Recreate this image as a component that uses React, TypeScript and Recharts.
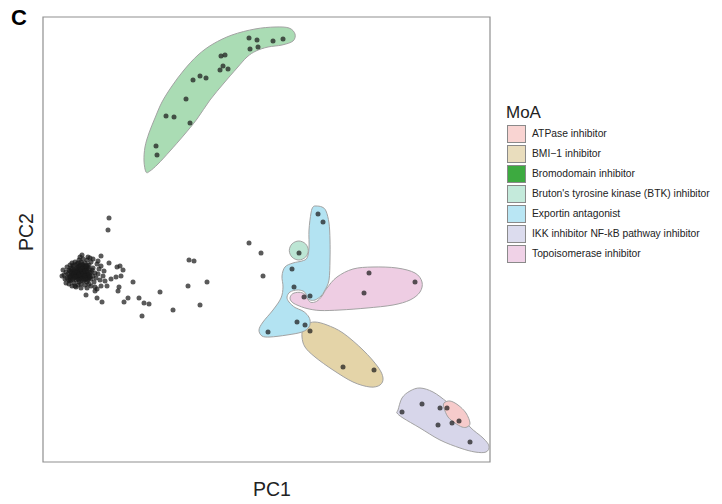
import React from 'react';
import { ScatterChart, Scatter, XAxis, YAxis, ReferenceArea } from 'recharts';

type Pt = [number, number];

// legend
const moaLabels = [
  'ATPase inhibitor',
  'BMI\u22121 inhibitor',
  'Bromodomain inhibitor',
  "Bruton's tyrosine kinase (BTK) inhibitor",
  'Exportin antagonist',
  'IKK inhibitor NF-kB pathway inhibitor',
  'Topoisomerase inhibitor',
];
const moaKeyColors = ['#F9D4D2', '#E9DDBD', '#3DAA40', '#C4EADB', '#B9E6F4', '#DCDCEE', '#F0D2E7'];

// untreated / unlabelled compounds
const otherPoints: Pt[] = [
  [66, 244], [65, 232], [206, 219], [218, 209], [220, 186], [146, 202], [151, 201], [164, 180],
  [145, 176], [117, 170], [90, 180], [85, 164], [81, 160], [96, 164], [101, 159], [106, 158],
  [99, 146], [130, 152], [157, 157],
  [39, 207], [58, 206], [47, 204], [66, 199], [74, 195], [77, 196], [80, 192], [78, 186],
  [73, 185], [68, 183], [76, 175], [75, 171], [64, 176], [58, 176], [54, 173], [52, 171],
  [43, 167], [54, 164], [59, 160], [33, 175], [23, 179], [26, 182],
  [30, 190], [32, 188], [34, 191], [36, 189], [38, 192], [40, 190], [42, 188], [44, 191],
  [35, 186], [37, 184], [39, 187], [41, 185], [43, 183], [45, 186], [47, 189], [33, 193],
  [35, 195], [37, 197], [39, 194], [41, 196], [43, 193], [45, 195], [31, 184], [29, 187],
  [27, 185], [28, 190], [26, 192], [33, 182], [36, 180], [40, 181], [44, 180], [48, 183],
  [50, 186], [49, 192], [46, 197], [42, 199], [38, 200], [34, 198], [30, 196], [28, 194],
  [25, 188], [24, 184], [27, 181], [31, 179], [35, 177], [38, 178], [42, 177], [46, 178],
  [51, 180], [53, 184], [52, 189], [50, 194], [48, 200], [44, 202], [40, 203], [36, 202],
  [32, 200], [29, 199], [33, 189], [37, 191], [41, 189], [39, 185], [35, 183], [31, 192],
  [43, 187], [46, 184], [34, 186], [38, 188], [42, 194], [36, 193], [40, 197], [44, 197],
  [30, 186], [28, 182], [26, 178], [22, 183], [21, 187], [23, 190], [55, 188], [56, 193],
  [54, 198], [57, 182], [60, 186], [61, 191], [58, 196], [62, 181], [48, 176], [52, 175],
  [44, 174], [38, 174], [32, 176], [29, 176], [55, 201], [50, 203], [45, 205], [37, 205],
  [27, 197], [24, 195], [20, 192], [19, 186],
  [31, 188], [33, 187], [35, 190], [37, 188], [39, 190], [41, 192], [43, 190], [45, 188],
  [34, 185], [36, 187], [38, 186], [40, 188], [42, 186], [44, 184], [46, 187], [32, 191],
  [34, 194], [36, 196], [38, 193], [40, 195], [42, 191], [44, 193], [30, 183], [28, 186],
  [29, 189], [27, 191], [32, 185], [36, 182], [39, 183], [41, 182], [45, 182], [47, 185],
  [48, 190], [46, 193], [43, 196], [39, 198], [35, 199], [31, 197], [29, 193], [26, 186],
];

const bromodomainPoints: Pt[] = [
  [206, 424], [214, 422], [230, 421], [240, 423], [207, 413], [215, 415], [178, 406], [182, 407],
  [180, 396], [177, 392], [185, 393], [157, 386], [163, 384], [150, 382], [143, 363], [123, 346],
  [131, 345], [147, 339], [113, 316], [114, 307],
];
const bmiPoints: Pt[] = [[267, 131], [300, 95], [331, 92]];
const btkPoints: Pt[] = [[256, 209]];
const exportinPoints: Pt[] = [[275, 248], [280, 240], [249, 193], [251, 175], [267, 166], [254, 140], [262, 137], [225, 130]];
const topoPoints: Pt[] = [[326, 189], [372, 180], [321, 169], [261, 165]];
const ikkPoints: Pt[] = [[359, 50], [379, 58], [397, 54], [395, 37], [409, 39], [427, 20]];
const atpasePoints: Pt[] = [[404, 54], [416, 41]];

// hull outlines
const bromodomainHull: Pt[] = [
  [103, 290], [101, 301], [102, 315], [106, 329], [112, 344], [119, 360], [129, 376], [141, 392],
  [155, 407], [170, 418], [189, 427], [212, 433], [232, 435], [246, 434], [252, 428], [250, 421],
  [239, 417], [225, 415], [213, 411], [204, 405], [194, 394], [181, 379], [167, 362], [154, 343],
  [141, 327], [127, 311], [115, 298], [107, 291],
];
const bmiHull: Pt[] = [
  [264, 138], [272, 140], [284, 137], [300, 129], [320, 112], [335, 95], [340, 84], [337, 77],
  [327, 75], [310, 80], [290, 92], [272, 105], [262, 115], [259, 125], [260, 134],
];
const btkHull: Pt[] = [
  [265.3, 211.5], [262.5, 218.2], [255.8, 221], [249.1, 218.2], [246.3, 211.5], [249.1, 204.8], [255.8, 202], [262.5, 204.8],
];
const exportinHull: Pt[] = [
  [273, 256], [279, 255], [283, 251], [286, 239], [287, 222], [287, 202], [286, 182], [282, 172],
  [278, 166], [272, 162], [267, 162], [264, 164], [263, 168], [260, 171], [254, 172], [247, 170],
  [244, 165], [246, 160], [252, 154.5], [259, 151.5], [264, 147.5], [267, 142], [266, 135], [259, 130],
  [244, 127], [227, 125], [219, 126], [216, 132], [220, 140], [230, 152], [238, 164], [240, 175],
  [239, 186], [242, 195], [250, 199], [259, 201], [264, 204], [266, 214], [266, 232], [268, 249],
  [270, 255],
];
const topoHull: Pt[] = [
  [247, 164], [249.7, 168.3], [256, 169.7], [261.7, 168], [264, 164], [267.7, 159.7], [273.7, 160.7],
  [279, 166], [284, 174], [294, 185], [310, 193], [330, 195], [354, 194], [372, 189], [379, 180],
  [377, 170], [367, 162], [350, 157], [324, 154], [297, 152], [277, 151.5], [264, 153.5], [254, 157], [249, 160],
];
const ikkHull: Pt[] = [
  [355, 52], [359, 64], [367, 71], [377, 74], [390, 70], [404, 60], [417, 49], [427, 35], [440, 24],
  [446, 16], [443, 10], [432, 10], [417, 14], [397, 22], [377, 34], [360, 44], [354, 49],
];
const atpaseHull: Pt[] = [
  [401, 59], [407, 61], [415, 57], [423, 49], [427, 39], [424, 35], [419, 35], [412, 39], [405, 45], [401, 54],
];

const hulls = [
  { pts: bromodomainHull, fill: '#AADCB4' },
  { pts: bmiHull, fill: '#E4D4A8' },
  { pts: btkHull, fill: '#BCE5D4' },
  { pts: exportinHull, fill: '#B3E3F2' },
  { pts: topoHull, fill: '#EECDE3' },
  { pts: ikkHull, fill: '#D7D6EA' },
  { pts: atpaseHull, fill: '#F6CBCB' },
];

const pointGroups = [otherPoints, bromodomainPoints, bmiPoints, btkPoints, exportinPoints, topoPoints, ikkPoints, atpasePoints];

const toXY = (a: Pt[]) => a.map(([x, y]) => ({ x, y }));

// closed catmull-rom through the scaled vertices
function closedPath(pts: { x: number; y: number }[]) {
  const n = pts.length;
  if (!n) return '';
  let d = `M${pts[0].x},${pts[0].y}`;
  for (let i = 0; i < n; i++) {
    const p0 = pts[(i - 1 + n) % n];
    const p1 = pts[i];
    const p2 = pts[(i + 1) % n];
    const p3 = pts[(i + 2) % n];
    const c1x = p1.x + (p2.x - p0.x) / 6;
    const c1y = p1.y + (p2.y - p0.y) / 6;
    const c2x = p2.x - (p3.x - p1.x) / 6;
    const c2y = p2.y - (p3.y - p1.y) / 6;
    d += `C${c1x},${c1y} ${c2x},${c2y} ${p2.x},${p2.y}`;
  }
  return d + 'Z';
}

const Dot = (p: any) => <circle cx={p.cx} cy={p.cy} r={2.5} fill="#1a1a1a" fillOpacity={0.72} />;

const font = '"Liberation Sans", Arial, Helvetica, sans-serif';

export default function App() {
  return (
    <div style={{ position: 'absolute', left: 0, top: 0, width: 722, height: 504, background: '#fff', fontFamily: font, color: '#222' }}>
      <ScatterChart width={722} height={504} margin={{ top: 17, left: 43, right: 232, bottom: 42 }}>
        <XAxis type="number" dataKey="x" domain={[0, 447]} allowDataOverflow hide />
        <YAxis type="number" dataKey="y" domain={[0, 445]} allowDataOverflow hide />
        {hulls.map((h, i) => (
          <Scatter
            key={'h' + i}
            data={toXY(h.pts)}
            isAnimationActive={false}
            shape={() => <g />}
            lineType="joint"
            line={(p: any) => <path d={closedPath(p.points)} fill={h.fill} stroke="#a3a3a3" strokeWidth={1} />}
          />
        ))}
        {pointGroups.map((g, i) => (
          <Scatter key={'p' + i} data={toXY(g)} isAnimationActive={false} shape={Dot} />
        ))}
        <ReferenceArea x1={0} x2={447} y1={0} y2={445} fill="none" stroke="#8f8f8f" strokeWidth={1.2} ifOverflow="visible" />
      </ScatterChart>

      <div style={{ position: 'absolute', left: 11, top: 6.5, fontSize: 22, fontWeight: 700, lineHeight: '22px', color: '#000' }}>C</div>
      <div style={{ position: 'absolute', left: 172, width: 200, top: 480, textAlign: 'center', fontSize: 19.5, lineHeight: '19.5px' }}>PC1</div>
      <div
        style={{
          position: 'absolute', left: -24, top: 222, width: 100, height: 20, textAlign: 'center',
          fontSize: 19.5, lineHeight: '20px', transform: 'rotate(-90deg)',
        }}
      >
        PC2
      </div>

      <div style={{ position: 'absolute', left: 506, top: 104, fontSize: 17, lineHeight: '17px' }}>MoA</div>
      {moaLabels.map((m, i) => (
        <React.Fragment key={m}>
          <div
            style={{
              position: 'absolute', left: 507, top: 125 + i * 20, width: 17, height: 16,
              background: moaKeyColors[i], border: '1px solid #8a8a8a',
            }}
          />
          <div style={{ position: 'absolute', left: 532, top: 129 + i * 20, fontSize: 10.3, lineHeight: '10.3px', whiteSpace: 'nowrap' }}>{m}</div>
        </React.Fragment>
      ))}
    </div>
  );
}
